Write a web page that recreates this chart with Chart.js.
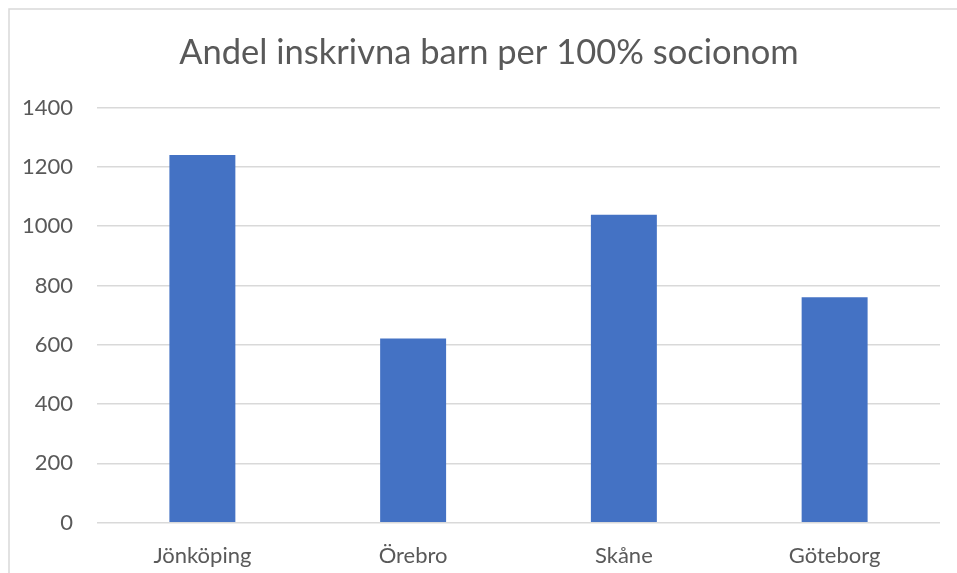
<!DOCTYPE html>
<html>
<head>
<meta charset="utf-8">
<script src="https://cdn.jsdelivr.net/npm/chart.js@4/dist/chart.umd.min.js"></script>
<style>
  html, body { margin: 0; padding: 0; background: #ffffff; }
  #wrap { position: relative; width: 957px; height: 573px; }
</style>
</head>
<body>
<div id="wrap"><canvas id="chart" width="957" height="573"></canvas></div>
<script>
// Regions and their values
const categories = ['Jönköping', 'Örebro', 'Skåne', 'Göteborg'];
const values = [1240, 621, 1038, 760];
const chartTitle = 'Andel inskrivna barn per 100% socionom';
const yMin = 0;
const yMax = 1400;
const yStep = 200;

const textColor = '#595959';
const gridColor = '#d9d9d9';
const barColor = '#4472c4';
const fontFamily = 'Lato, "Open Sans", sans-serif';

// Outer frame and the title, drawn on the canvas before the chart
const framePlugin = {
  id: 'frameAndTitle',
  beforeDraw(chart) {
    const ctx = chart.ctx;
    ctx.save();
    ctx.fillStyle = '#ffffff';
    ctx.fillRect(0, 0, chart.width, chart.height);
    ctx.strokeStyle = gridColor;
    ctx.lineWidth = 1.5;
    ctx.beginPath();
    ctx.moveTo(9, chart.height);
    ctx.lineTo(9, 9);
    ctx.lineTo(chart.width, 9);
    ctx.stroke();
    ctx.fillStyle = textColor;
    ctx.font = '34.5px ' + fontFamily;
    ctx.textAlign = 'center';
    ctx.textBaseline = 'alphabetic';
    ctx.fillText(chartTitle, 489, 64);
    ctx.restore();
  }
};

new Chart(document.getElementById('chart'), {
  type: 'bar',
  data: {
    labels: categories,
    datasets: [{
      data: values,
      backgroundColor: barColor,
      borderWidth: 0,
      categoryPercentage: 1,
      barPercentage: 0.313
    }]
  },
  options: {
    responsive: false,
    animation: false,
    layout: { padding: { left: 0, right: 17, top: 107.5, bottom: 0 } },
    plugins: {
      legend: { display: false },
      title: { display: false },
      tooltip: { enabled: false }
    },
    scales: {
      x: {
        grid: { display: false },
        border: { display: false },
        ticks: { color: textColor, font: { family: fontFamily, size: 22 }, padding: 12 },
        afterFit(scale) { scale.height = 50.3; }
      },
      y: {
        min: yMin,
        max: yMax,
        border: { display: false },
        grid: { color: gridColor, lineWidth: 1.5, drawTicks: false },
        ticks: {
          stepSize: yStep,
          color: textColor,
          font: { family: fontFamily, size: 22 },
          padding: 24,
          callback: (v) => String(v)
        },
        afterFit(scale) { scale.width = 97; }
      }
    }
  },
  plugins: [framePlugin]
});
</script>
</body>
</html>
